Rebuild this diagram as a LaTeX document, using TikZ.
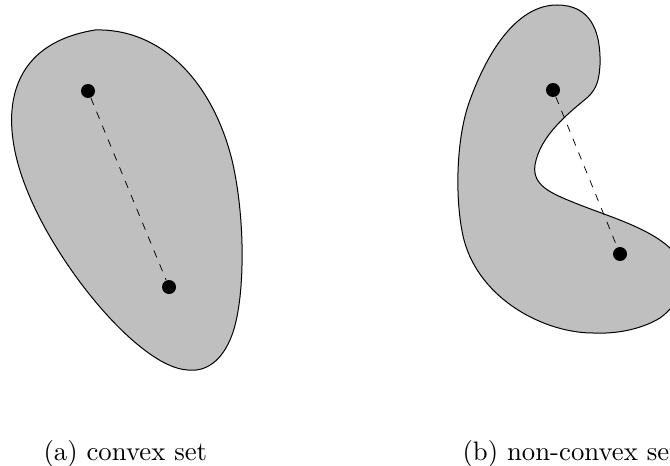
\documentclass[tikz,border=0pt]{standalone}
\usepackage{tikz}
\usetikzlibrary{positioning}

\begin{document}
\begin{tikzpicture}[
  x=0.4pt, y=-0.4pt,
  font=\fontsize{10.7pt}{13pt}\selectfont,
  region/.style={draw, fill=lightgray, line width=0.4pt},
  pt/.style={circle, fill=black, inner sep=0pt, minimum size=5.6pt},
  seg/.style={dashed, line width=0.3pt},
  caption/.style={anchor=base west, inner sep=0pt}
]
\useasboundingbox (0,0) rectangle (670,465);
\clip (0,0) rectangle (670,465);
% (a) convex set
\draw[region] (95,30) .. controls (160,28) and (212,80) .. (232,160)
  .. controls (246,220) and (245,300) .. (232,335)
  .. controls (222,362) and (205,372) .. (188,370)
  .. controls (140,368) and (55,265) .. (25,185)
  .. controls (0,120) and (3,45) .. (95,30) -- cycle;
\node[pt] (a1) at (88,91) {};
\node[pt] (a2) at (169,287) {};
\draw[seg] (a1) -- (a2);
% (b) non-convex set
\draw[region] (557,5) .. controls (590,5) and (601,30) .. (600,65)
  .. controls (599,80) and (597,88) .. (588,97)
  .. controls (570,112) and (540,135) .. (535,165)
  .. controls (532,185) and (550,193) .. (575,203)
  .. controls (610,217) and (650,228) .. (672,250)
  .. controls (690,270) and (685,300) .. (660,318)
  .. controls (640,330) and (615,334) .. (593,333)
  .. controls (545,333) and (480,300) .. (464,240)
  .. controls (455,205) and (455,140) .. (470,100)
  .. controls (490,45) and (520,5) .. (557,5) -- cycle;
\node[pt] (b1) at (553,90) {};
\node[pt] (b2) at (620,254) {};
\draw[seg] (b1) -- (b2);
% captions
\node[caption] (capa) at (43,460) {(a) convex set};
\node[caption] (capb) at (462,460) {(b) non-convex set};
\end{tikzpicture}
\end{document}
